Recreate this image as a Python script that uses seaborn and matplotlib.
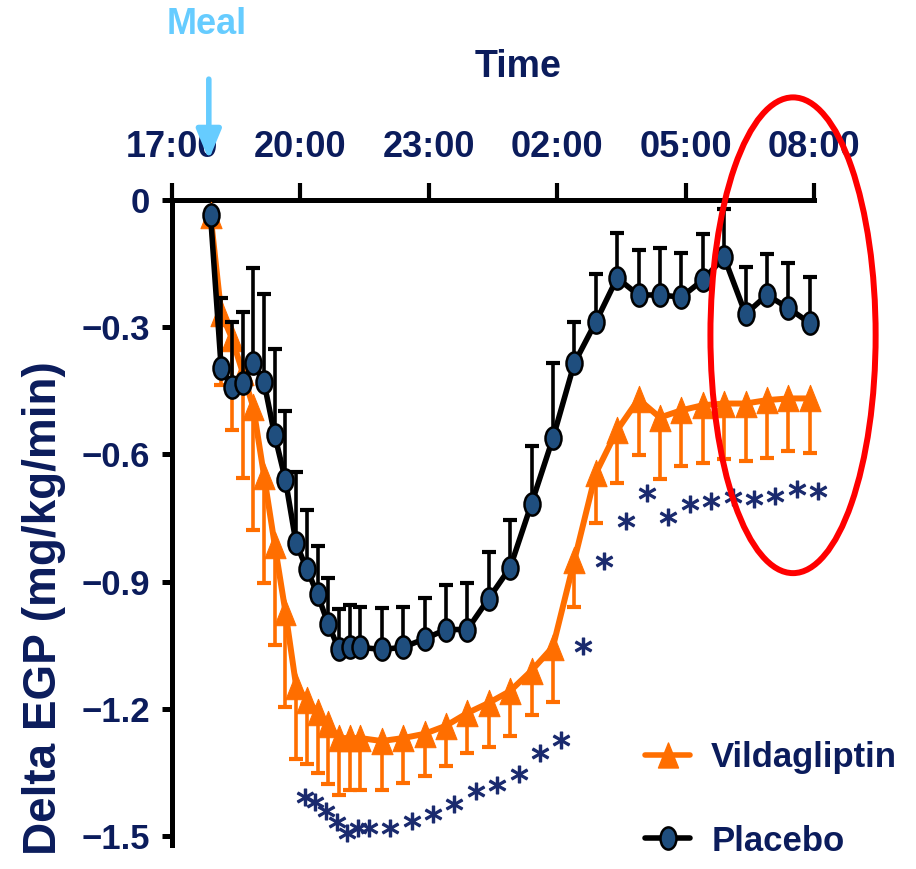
import numpy as np
import pandas as pd
import matplotlib
matplotlib.use("Agg")
import matplotlib.pyplot as plt
import seaborn as sns
from matplotlib.path import Path
from matplotlib.transforms import Affine2D
from matplotlib.lines import Line2D
from matplotlib.patches import Ellipse

# ---------------- data (hours after 17:00) ----------------
hours = [0.9, 1.15, 1.4, 1.65, 1.9, 2.15, 2.4, 2.65, 2.9, 3.15, 3.4, 3.65, 3.9, 4.15, 4.4,
         4.9, 5.4, 5.9, 6.4, 6.9, 7.4, 7.9, 8.4, 8.9, 9.4, 9.9, 10.4, 10.9, 11.4, 11.9,
         12.4, 12.9, 13.4, 13.9, 14.4, 14.9]
placebo = [-0.035, -0.397, -0.442, -0.432, -0.385, -0.43, -0.555, -0.66, -0.81, -0.87,
           -0.93, -1.0, -1.06, -1.055, -1.055, -1.06, -1.055, -1.035, -1.013, -1.013,
           -0.94, -0.867, -0.716, -0.562, -0.385, -0.288, -0.184, -0.224, -0.224, -0.229,
           -0.189, -0.135, -0.269, -0.224, -0.255, -0.29]
placebo_sem = [0.0, 0.165, 0.154, 0.168, 0.224, 0.208, 0.203, 0.163, 0.168, 0.14,
               0.113, 0.109, 0.095, 0.1, 0.095, 0.097, 0.095, 0.097, 0.104, 0.109,
               0.111, 0.113, 0.137, 0.177, 0.097, 0.113, 0.106, 0.106, 0.111, 0.104,
               0.109, 0.113, 0.111, 0.097, 0.106, 0.109]
vilda = [-0.035, -0.267, -0.326, -0.406, -0.489, -0.65, -0.813, -0.971, -1.146, -1.179,
         -1.207, -1.236, -1.269, -1.269, -1.269, -1.276, -1.269, -1.259, -1.24, -1.21,
         -1.186, -1.158, -1.11, -1.054, -0.85, -0.645, -0.543, -0.47, -0.513, -0.496,
         -0.484, -0.48, -0.48, -0.472, -0.468, -0.468]
vilda_sem = [0.0, 0.17, 0.217, 0.25, 0.29, 0.253, 0.236, 0.224, 0.172, 0.151,
             0.144, 0.142, 0.135, 0.123, 0.123, 0.116, 0.106, 0.10, 0.094, 0.094,
             0.104, 0.106, 0.104, 0.13, 0.111, 0.116, 0.125, 0.132, 0.144, 0.132,
             0.137, 0.13, 0.135, 0.137, 0.123, 0.128]
significant = [False] * 8 + [True] * 28
tick_hours = [0, 3, 6, 9, 12, 15]
tick_labels = ["17:00", "20:00", "23:00", "02:00", "05:00", "08:00"]
y_ticks = [0, -0.3, -0.6, -0.9, -1.2, -1.5]
y_tick_labels = ["0", "\u22120.3", "\u22120.6", "\u22120.9", "\u22121.2", "\u22121.5"]
meal_hour = 0.86
series_names = ["Vildagliptin", "Placebo"]

# ---------------- style ----------------
sns.set_theme(style="white")
plt.rcParams["font.family"] = ["Liberation Sans", "DejaVu Sans"]
NAVY = "#0b1c5c"
ORANGE = "#ff6e00"
BLUE = "#1f4e7e"
LIGHT = "#66ccff"

fig = plt.figure(figsize=(9.16, 8.69), dpi=100)
ax = fig.add_axes([172 / 916, 1 - 844.5 / 869, 642 / 916, 644.5 / 869])

ell = Path.unit_circle().transformed(Affine2D().scale(0.72, 1.0))
tri = Path([(-0.4, -0.5), (0.4, -0.5), (0.0, 0.5), (-0.4, -0.5)],
           [Path.MOVETO, Path.LINETO, Path.LINETO, Path.CLOSEPOLY])


def one_sided_errors(x, y, err, sign, color, z):
    xs = [a for a, e in zip(x, err) if e > 0]
    ys = [b for b, e in zip(y, err) if e > 0]
    ends = [b + sign * e for b, e in zip(y, err) if e > 0]
    ax.vlines(xs, ys, ends, colors=color, lw=2.6, zorder=z, clip_on=False)
    ax.plot(xs, ends, ls="none", marker="_", ms=9.5, mew=3, color=color,
            zorder=z, clip_on=False)


df_v = pd.DataFrame({"hour": hours, "egp": vilda})
df_p = pd.DataFrame({"hour": hours, "egp": placebo})

# Vildagliptin (drawn first, behind placebo)
one_sided_errors(hours, vilda, vilda_sem, -1, ORANGE, 2)
sns.lineplot(data=df_v, x="hour", y="egp", ax=ax, color=ORANGE, lw=4.3, marker=tri,
             ms=19, mfc=ORANGE, mec=ORANGE, errorbar=None, legend=False,
             clip_on=False, zorder=3)

# Placebo
one_sided_errors(hours, placebo, placebo_sem, 1, "black", 4)
sns.lineplot(data=df_p, x="hour", y="egp", ax=ax, color="black", lw=4, marker=ell,
             ms=16, mfc=BLUE, mec="black", mew=1.8, errorbar=None, legend=False,
             clip_on=False, zorder=5)

# significance asterisks
sx = [h + 0.2 for h, s in zip(hours, significant) if s]
sy = [v - e - 0.09 for v, e, s in zip(vilda, vilda_sem, significant) if s]
ax.plot(sx, sy, ls="none", marker="$*$", ms=12, color="#1a2a6e", clip_on=False, zorder=6)

# axes
ax.set_xlim(0, 15)
ax.set_ylim(-1.52, 0)
ax.xaxis.tick_top()
ax.set_xticks(tick_hours)
ax.set_xticklabels(tick_labels, fontweight="bold", fontsize=26, color=NAVY)
ax.set_yticks(y_ticks)
ax.set_yticklabels(y_tick_labels, fontweight="bold", fontsize=25, color=NAVY)
ax.tick_params(axis="x", direction="out", length=12, width=3, color="black", pad=13,
               top=True, bottom=False)
ax.tick_params(axis="y", direction="out", length=7, width=3.6, color="black", pad=9,
               left=True)
for side in ["bottom", "right"]:
    ax.spines[side].set_visible(False)
for side in ["top", "left"]:
    ax.spines[side].set_linewidth(3.6)
    ax.spines[side].set_color("black")
ax.set_xlabel("")
ax.set_ylabel("")
ax.grid(False)

fig.text(518 / 916, 1 - 67 / 869, "Time", ha="center", va="center",
         fontweight="bold", fontsize=27, color=NAVY)
fig.text(44 / 916, 1 - 608 / 869, "Delta EGP (mg/kg/min)", rotation=90, ha="center",
         va="center", fontweight="bold", fontsize=33, color=NAVY)

# meal marker
fig.text(207 / 916, 1 - 25 / 869, "Meal", ha="center", va="center",
         fontweight="bold", fontsize=26, color=LIGHT)
ax.annotate("", xy=(meal_hour, 0.095), xytext=(meal_hour, 0.285),
            arrowprops=dict(arrowstyle="-|>,head_length=0.6,head_width=0.25",
                            mutation_scale=30, lw=4, color=LIGHT, shrinkA=0, shrinkB=0),
            annotation_clip=False)

# red highlight ellipse
ax.add_patch(Ellipse((14.51, -0.319), width=3.86, height=1.122, fill=False,
                     ec="#ff0000", lw=4.3, clip_on=False, zorder=7))

# legend
handles = [
    Line2D([], [], color=ORANGE, lw=4, marker=tri, ms=18, mfc=ORANGE, mec=ORANGE),
    Line2D([], [], color="black", lw=4, marker=ell, ms=16, mfc=BLUE, mec="black", mew=1.8),
]
leg = ax.legend(handles, series_names, loc="upper left", frameon=False,
                bbox_to_anchor=(614 / 916, 1 - 710 / 869), bbox_transform=fig.transFigure,
                handlelength=1.3, handletextpad=0.6, labelspacing=1.45,
                prop={"weight": "bold", "size": 25})
for t in leg.get_texts():
    t.set_color(NAVY)

fig.savefig("out.png", dpi=100)
